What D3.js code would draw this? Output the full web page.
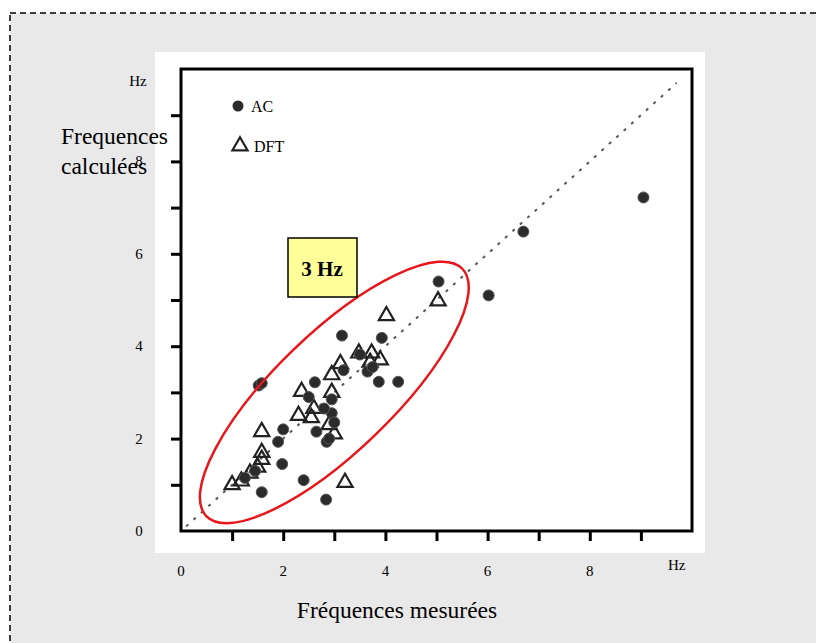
<!DOCTYPE html>
<html>
<head>
<meta charset="utf-8">
<script src="https://cdn.jsdelivr.net/npm/d3@7"></script>
<style>
  body { margin: 0; background: #fff; }
  svg { display: block; }
</style>
</head>
<body>
<script>
// AC points (measured, computed)
const acX = [1.52, 1.58, 9.05, 6.70, 6.02, 5.04, 3.15, 3.93, 3.87, 4.25, 3.18, 3.65, 3.50, 2.62, 2.50, 2.95, 2.95, 3.00, 2.65, 2.85, 2.90, 2.00, 1.90, 1.98, 2.40, 1.58, 2.84, 1.25, 1.45, 2.80, 3.75];
const acY = [3.15, 3.20, 7.22, 6.48, 5.10, 5.40, 4.23, 4.18, 3.23, 3.23, 3.48, 3.45, 3.82, 3.22, 2.90, 2.85, 2.55, 2.35, 2.15, 1.93, 2.00, 2.20, 1.93, 1.45, 1.10, 0.84, 0.68, 1.15, 1.30, 2.65, 3.55];
// DFT points
const dftX = [5.03, 4.02, 3.21, 1.58, 3.12, 2.95, 2.36, 2.30, 2.60, 2.95, 3.00, 2.90, 3.48, 3.73, 3.90, 3.70, 1.00, 1.18, 1.35, 1.50, 1.58, 1.58, 2.55];
const dftY = [4.98, 4.66, 1.05, 2.15, 3.62, 3.38, 3.02, 2.50, 2.65, 3.00, 2.10, 2.30, 3.85, 3.85, 3.70, 3.65, 1.00, 1.08, 1.25, 1.38, 1.55, 1.70, 2.45];

const xTickLabels = [0, 2, 4, 6, 8];
const yTickLabels = [0, 2, 4, 6, 8];
const minorTicks = [1, 2, 3, 4, 5, 6, 7, 8, 9];
const unit = "Hz";
const legendItems = ["AC", "DFT"];

const W = 816, H = 643;
const font = "'Liberation Serif', 'Times New Roman', serif";

const svg = d3.select("body").append("svg")
  .attr("width", W)
  .attr("height", H);

// grey page + dashed frame
svg.append("rect").attr("x", 0).attr("y", 0).attr("width", W).attr("height", H).attr("fill", "#fff");
svg.append("rect")
  .attr("x", 10).attr("y", 13)
  .attr("width", W + 20).attr("height", H + 20)
  .attr("fill", "#e9e9e9")
  .attr("stroke", "#000")
  .attr("stroke-width", 1.5)
  .attr("stroke-dasharray", "6,4");

// white panel
svg.append("rect")
  .attr("x", 155).attr("y", 52)
  .attr("width", 550).attr("height", 501)
  .attr("fill", "#fff");

const x = d3.scaleLinear().domain([0, 10]).range([181, 692]);
const y = d3.scaleLinear().domain([0, 10]).range([531, 69]);

// frame
svg.append("rect")
  .attr("x", x(0)).attr("y", y(10))
  .attr("width", x(10) - x(0)).attr("height", y(0) - y(10))
  .attr("fill", "none")
  .attr("stroke", "#000")
  .attr("stroke-width", 3);

// ticks
const xAxis = svg.append("g")
  .attr("transform", "translate(0," + y(0) + ")")
  .call(d3.axisBottom(x).tickValues(minorTicks).tickSize(10).tickFormat(""));
const yAxis = svg.append("g")
  .attr("transform", "translate(" + x(0) + ",0)")
  .call(d3.axisLeft(y).tickValues(minorTicks).tickSize(10).tickFormat(""));
[xAxis, yAxis].forEach(a => {
  a.select(".domain").remove();
  a.selectAll(".tick line").attr("stroke", "#000").attr("stroke-width", 3);
});

// tick labels
svg.selectAll(".xlab")
  .data(xTickLabels)
  .enter().append("text")
  .attr("x", d => x(d))
  .attr("y", 576)
  .attr("text-anchor", "middle")
  .attr("font-family", font)
  .attr("font-size", 15)
  .text(d => d);
svg.append("text")
  .attr("x", x(9.7)).attr("y", 570)
  .attr("text-anchor", "middle")
  .attr("font-family", font).attr("font-size", 15)
  .text(unit);

svg.selectAll(".ylab")
  .data(yTickLabels)
  .enter().append("text")
  .attr("x", 139)
  .attr("y", d => y(d) + 5)
  .attr("text-anchor", "middle")
  .attr("font-family", font)
  .attr("font-size", 15)
  .text(d => d);
svg.append("text")
  .attr("x", 138).attr("y", y(9.75) + 5)
  .attr("text-anchor", "middle")
  .attr("font-family", font).attr("font-size", 15)
  .text(unit);

// axis titles
svg.append("text")
  .attr("x", 61).attr("y", 144)
  .attr("font-family", font).attr("font-size", 23.5)
  .text("Frequences");
svg.append("text")
  .attr("x", 61).attr("y", 174)
  .attr("font-family", font).attr("font-size", 23.5)
  .text("calculées");
svg.append("text")
  .attr("x", 397).attr("y", 618)
  .attr("text-anchor", "middle")
  .attr("font-family", font).attr("font-size", 23.5)
  .text("Fréquences mesurées");

// y = x reference line
svg.append("line")
  .attr("x1", x(0.1)).attr("y1", y(0.1))
  .attr("x2", x(9.7)).attr("y2", y(9.7))
  .attr("stroke", "#555")
  .attr("stroke-width", 2)
  .attr("stroke-dasharray", "3,7");

const tri = d3.symbol().type(d3.symbolTriangle).size(100);

// DFT triangles
svg.selectAll(".dft")
  .data(dftX.map((d, i) => [d, dftY[i]]))
  .enter().append("path")
  .attr("d", tri)
  .attr("transform", d => "translate(" + x(d[0]) + "," + y(d[1]) + ")")
  .attr("fill", "none")
  .attr("stroke", "#222")
  .attr("stroke-width", 2.2);

// AC dots
svg.selectAll(".ac")
  .data(acX.map((d, i) => [d, acY[i]]))
  .enter().append("circle")
  .attr("cx", d => x(d[0]))
  .attr("cy", d => y(d[1]))
  .attr("r", 5.5)
  .attr("fill", "#2b2b2b")
  .attr("stroke", "#555")
  .attr("stroke-width", 1);

// legend
svg.append("circle").attr("cx", 238).attr("cy", 106).attr("r", 5.5).attr("fill", "#2b2b2b");
svg.append("path").attr("d", tri).attr("transform", "translate(240,146)")
  .attr("fill", "none").attr("stroke", "#222").attr("stroke-width", 2.2);
svg.selectAll(".leg")
  .data(legendItems)
  .enter().append("text")
  .attr("x", (d, i) => i === 0 ? 251 : 254)
  .attr("y", (d, i) => i === 0 ? 112 : 152)
  .attr("font-family", font)
  .attr("font-size", 16)
  .text(d => d);

// red ellipse around the 3 Hz cluster
svg.append("ellipse")
  .attr("cx", 0).attr("cy", 0)
  .attr("rx", 178).attr("ry", 59)
  .attr("transform", "translate(" + x(3) + "," + y(3) + ") rotate(-44)")
  .attr("fill", "none")
  .attr("stroke", "#e8161b")
  .attr("stroke-width", 2.5);

// "3 Hz" box
svg.append("rect")
  .attr("x", 288).attr("y", 238)
  .attr("width", 69).attr("height", 59)
  .attr("fill", "#ffff99")
  .attr("stroke", "#000")
  .attr("stroke-width", 1.5);
svg.append("text")
  .attr("x", 322).attr("y", 276)
  .attr("text-anchor", "middle")
  .attr("font-family", font)
  .attr("font-weight", "bold")
  .attr("font-size", 21)
  .text("3 Hz");
</script>
</body>
</html>
